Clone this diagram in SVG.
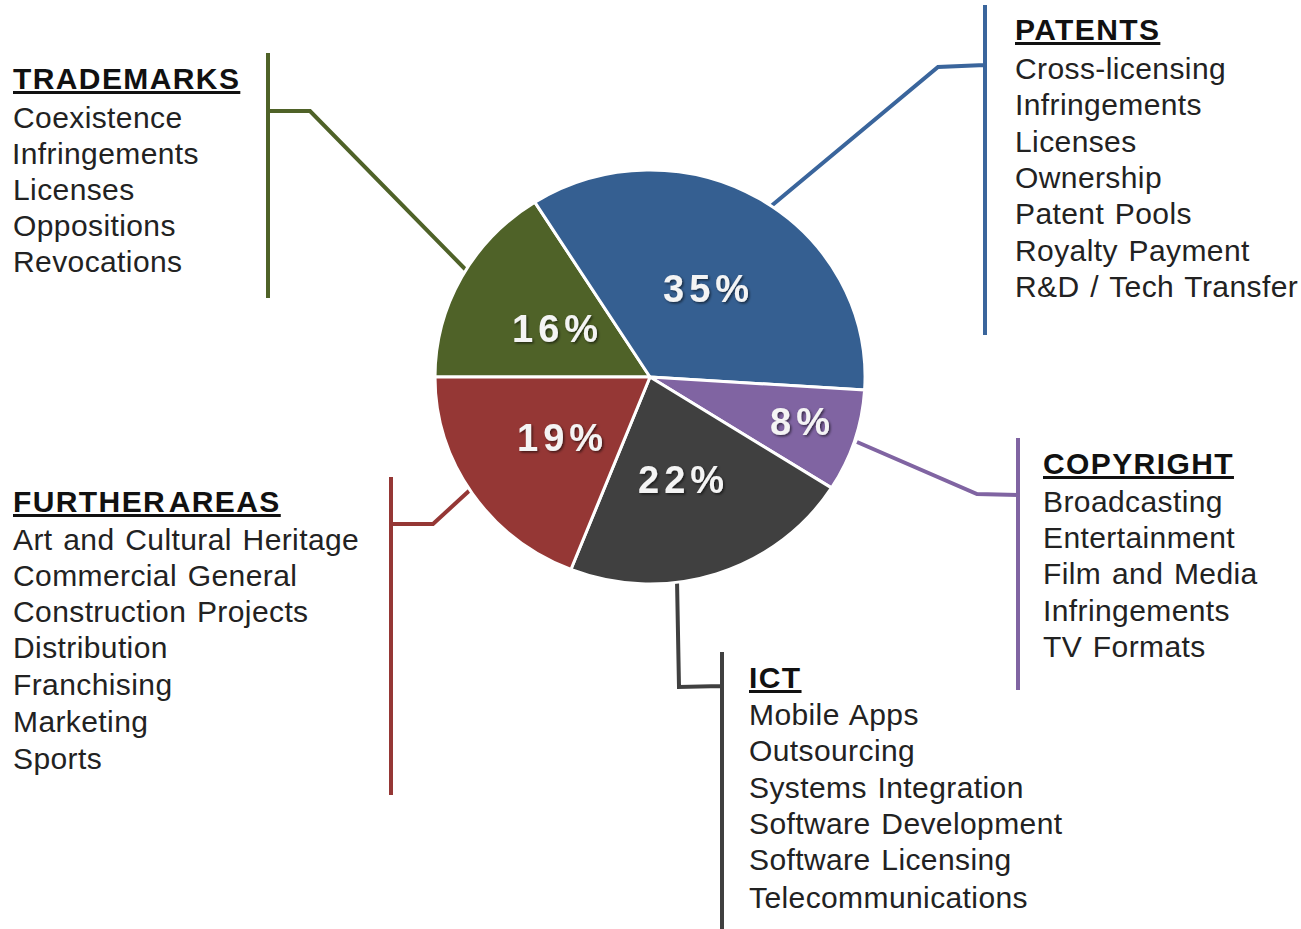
<svg xmlns="http://www.w3.org/2000/svg" width="1301" height="929" viewBox="0 0 1301 929">
<defs>
<filter id="sh" x="-20%" y="-20%" width="140%" height="140%">
<feDropShadow dx="1.5" dy="1.5" stdDeviation="1.2" flood-color="#000" flood-opacity="0.55"/>
</filter>
<style>
.h{font-family:"Liberation Sans",Arial,sans-serif;font-size:30px;font-weight:bold;fill:#111;text-decoration:underline;letter-spacing:1.4px}
.t{font-family:"Liberation Sans",Arial,sans-serif;font-size:30px;fill:#222;letter-spacing:0.4px;word-spacing:2px}
.p{font-family:"Liberation Sans",Arial,sans-serif;font-size:38px;font-weight:bold;fill:#f4f4f4;letter-spacing:5px}
.sl{stroke:#fff;stroke-width:3;stroke-linejoin:round}
.c{fill:none;stroke-width:4;stroke-linejoin:miter}
</style>
</defs>
<rect width="1301" height="929" fill="#fff"/>

<g id="connectors">
<path class="c" stroke="#4F6228" d="M268,53 V298 M268,111 H310 L466,270"/>
<path class="c" stroke="#3A659C" d="M985,5 V335 M985,65 L938,67 L770,207"/>
<path class="c" stroke="#8064A2" d="M1018,438 V690 M1018,495 L977,494 L857,442"/>
<path class="c" stroke="#404040" d="M677,580 L679,687 L722,686 M722,652 V929"/>
<path class="c" stroke="#953735" d="M391,477 V795 M391,524 L433,524 L470,490"/>
</g>

<g id="pie">
<path class="sl" fill="#4F6228" d="M650,377 L435,377 A215,207 0 0 1 534.8,202.2 Z"/>
<path class="sl" fill="#355F91" d="M650,377 L534.8,202.2 A215,207 0 0 1 864.6,390 Z"/>
<path class="sl" fill="#8064A2" d="M650,377 L864.6,390 A215,207 0 0 1 831.5,487.9 Z"/>
<path class="sl" fill="#404040" d="M650,377 L831.5,487.9 A215,207 0 0 1 570.9,569.5 Z"/>
<path class="sl" fill="#953735" d="M650,377 L570.9,569.5 A215,207 0 0 1 435,377 Z"/>
<g filter="url(#sh)">
<text class="p" x="663" y="302">35%</text>
<text class="p" x="512" y="342">16%</text>
<text class="p" x="517" y="451">19%</text>
<text class="p" x="638" y="493">22%</text>
<text class="p" x="770" y="435">8%</text>
</g>
</g>

<g id="trademarks">
<text class="h" x="13" y="89">TRADEMARKS</text>
<text class="t" x="13" y="128">Coexistence</text>
<text class="t" x="12" y="164">Infringements</text>
<text class="t" x="13" y="200">Licenses</text>
<text class="t" x="13" y="236">Oppositions</text>
<text class="t" x="13" y="272">Revocations</text>
</g>

<g id="patents">
<text class="h" x="1015" y="40">PATENTS</text>
<text class="t" x="1015" y="79">Cross-licensing</text>
<text class="t" x="1015" y="115">Infringements</text>
<text class="t" x="1015" y="152">Licenses</text>
<text class="t" x="1015" y="188">Ownership</text>
<text class="t" x="1015" y="224">Patent Pools</text>
<text class="t" x="1015" y="261">Royalty Payment</text>
<text class="t" x="1015" y="297">R&amp;D / Tech Transfer</text>
</g>

<g id="copyright">
<text class="h" x="1043" y="474">COPYRIGHT</text>
<text class="t" x="1043" y="512">Broadcasting</text>
<text class="t" x="1043" y="548">Entertainment</text>
<text class="t" x="1043" y="584">Film and Media</text>
<text class="t" x="1043" y="621">Infringements</text>
<text class="t" x="1043" y="657">TV Formats</text>
</g>

<g id="ict">
<text class="h" x="749" y="688">ICT</text>
<text class="t" x="749" y="725">Mobile Apps</text>
<text class="t" x="749" y="761">Outsourcing</text>
<text class="t" x="749" y="798">Systems Integration</text>
<text class="t" x="749" y="834">Software Development</text>
<text class="t" x="749" y="870">Software Licensing</text>
<text class="t" x="749" y="908">Telecommunications</text>
</g>

<g id="further-areas">
<text class="h" x="13" y="512" style="word-spacing:-6px">FURTHER AREAS</text>
<text class="t" x="13" y="550">Art and Cultural Heritage</text>
<text class="t" x="13" y="586">Commercial General</text>
<text class="t" x="13" y="622">Construction Projects</text>
<text class="t" x="13" y="658">Distribution</text>
<text class="t" x="13" y="695">Franchising</text>
<text class="t" x="13" y="732">Marketing</text>
<text class="t" x="13" y="769">Sports</text>
</g>
</svg>
